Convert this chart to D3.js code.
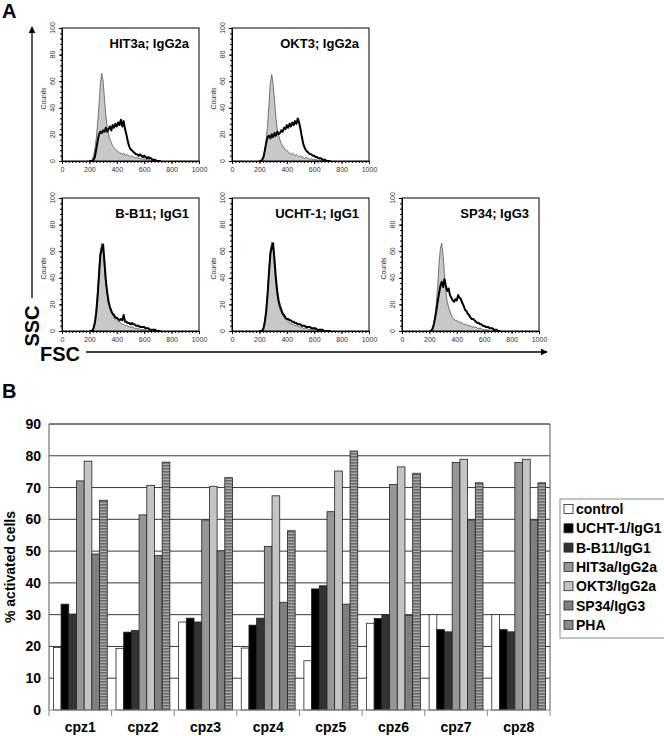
<!DOCTYPE html>
<html>
<head>
<meta charset="utf-8">
<script src="https://cdn.jsdelivr.net/npm/d3@7"></script>
<style>
body{margin:0;background:#fff;}
svg{display:block;font-family:"Liberation Sans",Arial,sans-serif;}
</style>
</head>
<body>
<script>
// ---- panel A data (FSC histograms) ----
const FSC_BINS=[200,210,220,230,240,250,260,270,280,290,300,310,320,330,340,350,360,370,380,390,
                400,410,420,430,440,450,460,470,480,490,500,510,520,530,540,550,560,570,580,590,
                600,610,620,630,640,650,660,670,680,690,700,710,720];
const FSC_TICKS=[0,200,400,600,800,1000];
const COUNT_TICKS=[0,20,40,60,80,100];
const PANEL_TITLES=["HIT3a; IgG2a","OKT3; IgG2a","B-B11; IgG1","UCHT-1; IgG1","SP34; IgG3"];

const hit3aCtrl=[0,0,1,4,9,17,28,42,58,66,60,47,34,25,20,16,14,11,10,9,8,7,6,6,5,6,4,5,4,4,3,4,3,3,2,3,2,2,2,1,2,1,1,1,1,0,1,0,0,0,0,0,0];
const hit3aStim=[0,0,0,1,3,9,15,20,22,21,23,22,25,22,24,26,23,27,25,28,26,29,27,31,26,30,24,20,15,11,9,8,7,6,5,5,4,5,4,3,4,3,2,3,2,2,1,1,1,0,0,0,0];
const okt3Ctrl=[0,0,1,3,8,16,27,43,59,65,58,46,33,24,19,16,13,11,10,8,8,7,6,5,6,5,4,5,4,3,4,3,3,2,3,2,2,1,2,1,1,1,1,0,1,0,0,0,0,0,0,0,0];
const okt3Stim=[0,0,1,3,8,14,18,19,17,20,18,21,19,22,20,21,23,22,25,24,27,25,28,26,29,27,30,28,32,29,24,18,13,10,8,7,6,5,5,4,4,3,3,2,2,2,1,1,1,0,0,0,0];
const bb11Ctrl=[0,0,1,3,8,17,30,47,60,66,60,47,35,27,21,17,14,12,10,9,8,7,7,6,5,5,4,4,4,3,3,3,3,2,2,2,2,1,1,1,1,1,0,0,0,0,0,0,0,0,0,0,0];
const bb11Stim=[0,0,0,2,6,14,26,42,57,62,65,52,38,29,22,18,15,13,12,10,10,9,8,9,8,12,7,7,6,6,5,6,5,5,4,4,4,3,3,3,3,2,2,2,1,1,1,1,1,0,0,0,0];
const ucht1Ctrl=[0,0,1,3,9,18,30,46,61,67,61,48,35,26,20,16,14,12,10,9,8,7,6,6,5,5,4,4,4,3,3,3,2,2,2,2,1,1,1,1,1,1,0,0,0,0,0,0,0,0,0,0,0];
const ucht1Stim=[0,0,0,2,7,15,28,44,58,63,66,54,40,30,23,19,16,13,12,10,9,9,8,8,7,7,6,6,5,5,5,4,4,4,3,3,3,3,2,2,2,2,1,1,1,1,1,0,0,0,0,0,0];
const sp34Ctrl=[0,0,1,4,10,20,33,50,62,66,57,42,30,22,18,15,12,10,9,8,8,7,7,6,6,5,5,5,4,4,4,3,3,3,3,2,2,2,2,1,1,1,1,1,0,0,0,0,0,0,0,0,0];
const sp34Stim=[0,0,1,4,9,15,22,28,34,37,33,39,34,30,32,27,25,23,22,24,23,27,25,24,21,19,16,15,13,12,10,9,9,8,7,6,6,5,5,4,4,3,3,3,2,2,2,1,1,1,0,0,0];

// ---- panel B data (% activated cells) ----
const DONORS=["cpz1","cpz2","cpz3","cpz4","cpz5","cpz6","cpz7","cpz8"];
const SERIES=["control","UCHT-1/IgG1","B-B11/IgG1","HIT3a/IgG2a","OKT3/IgG2a","SP34/IgG3","PHA"];
const control=[19.7,19.4,27.7,19.5,15.5,27.3,30,30];
const ucht1=[33.3,24.5,28.9,26.7,38.1,28.8,25.3,25.3];
const bb11=[30.2,25,27.7,28.9,39.1,30,24.6,24.6];
const hit3a=[72.1,61.4,59.8,51.5,62.4,71,77.9,77.9];
const okt3=[78.3,70.7,70.4,67.4,75.2,76.5,78.9,78.9];
const sp34=[49.1,48.6,50.1,33.9,33.3,29.8,59.8,59.8];
const pha=[66,78,73.1,56.4,81.5,74.5,71.5,71.5];
const PCT_TICKS=[0,10,20,30,40,50,60,70,80,90];

const w=664;
const h=736;
const svg=d3.select("body").append("svg").attr("width",w).attr("height",h);

const defs=svg.append("defs");
const pat=defs.append("pattern").attr("id","phaStripes").attr("patternUnits","userSpaceOnUse")
  .attr("width",6).attr("height",3);
pat.append("rect").attr("width",6).attr("height",3).attr("fill","#a9a9a9");
pat.append("rect").attr("width",6).attr("height",1.6).attr("fill","#6c6c6c");
defs.append("marker").attr("id","arrowHead").attr("viewBox","0 0 10 10")
  .attr("refX",9).attr("refY",5).attr("markerWidth",7).attr("markerHeight",7)
  .attr("markerUnits","userSpaceOnUse").attr("orient","auto")
  .append("path").attr("d","M0,0L10,5L0,10z").attr("fill","#000");

// ================= A =================
svg.append("text").text("A").attr("x",2).attr("y",18)
  .style("font-size","20px").style("font-weight","bold");

const panelW=137;
const panelH=133;
const panelPos=[[62,28],[232,28],[62,198],[232,198],[402,198]];
const histData=[
  {ctrl:hit3aCtrl,stim:hit3aStim},
  {ctrl:okt3Ctrl,stim:okt3Stim},
  {ctrl:bb11Ctrl,stim:bb11Stim},
  {ctrl:ucht1Ctrl,stim:ucht1Stim},
  {ctrl:sp34Ctrl,stim:sp34Stim}
];

const hx=d3.scaleLinear().domain([0,1000]).range([0,panelW]);
const hy=d3.scaleLinear().domain([0,100]).range([panelH,0]);
const histArea=d3.area().x(d=>hx(d[0])).y0(hy(0)).y1(d=>hy(d[1]));
const histLine=d3.line().x(d=>hx(d[0])).y(d=>hy(d[1]));

histData.forEach((p,i)=>{
  const g=svg.append("g").attr("transform",`translate(${panelPos[i][0]},${panelPos[i][1]})`);
  const ctrlPts=FSC_BINS.map((b,j)=>[b,p.ctrl[j]]);
  const stimPts=FSC_BINS.map((b,j)=>[b,p.stim[j]]);

  g.append("path").datum(ctrlPts).attr("d",histArea).attr("fill","#c8c8c8");
  g.append("path").datum(ctrlPts).attr("d",histLine).attr("fill","none")
    .attr("stroke","#555").attr("stroke-width",0.8);
  g.append("path").datum(stimPts).attr("d",histLine).attr("fill","none")
    .attr("stroke","#000").attr("stroke-width",2).attr("stroke-linejoin","round");

  g.append("rect").attr("width",panelW).attr("height",panelH)
    .attr("fill","none").attr("stroke","#000").attr("stroke-width",1);

  // x axis
  const xAx=g.append("g").attr("transform",`translate(0,${panelH})`)
    .call(d3.axisBottom(hx).tickValues(FSC_TICKS).tickSize(3).tickSizeOuter(0).tickFormat(d3.format("d")));
  g.append("g").attr("transform",`translate(0,${panelH})`)
    .call(d3.axisBottom(hx).tickValues(d3.range(0,1001,25)).tickSize(2).tickSizeOuter(0).tickFormat(""));
  xAx.selectAll("text").style("font-size","7px").attr("fill","#333");

  // y axis
  g.append("g").call(d3.axisLeft(hy).tickValues(COUNT_TICKS).tickSize(3).tickSizeOuter(0).tickFormat(""));
  g.append("g").call(d3.axisLeft(hy).tickValues(d3.range(0,101,4)).tickSize(2).tickSizeOuter(0).tickFormat(""));
  g.selectAll(".ylab").data(COUNT_TICKS).enter().append("text")
    .attr("transform",d=>`translate(-7,${hy(d)}) rotate(-90)`)
    .attr("text-anchor","middle").style("font-size","7px").attr("fill","#333")
    .text(d=>d);
  g.append("text").text("Counts")
    .attr("transform",`translate(-16,${panelH/2+4}) rotate(-90)`)
    .attr("text-anchor","middle").style("font-size","7px").attr("fill","#333");

  g.append("text").text(PANEL_TITLES[i])
    .attr("x",panelW-10).attr("y",20).attr("text-anchor","end")
    .style("font-size","13px").style("font-weight","bold");
});

// SSC / FSC arrows
svg.append("line").attr("x1",32).attr("y1",298).attr("x2",32).attr("y2",27)
  .attr("stroke","#000").attr("stroke-width",1.3).attr("marker-end","url(#arrowHead)");
svg.append("text").text("SSC").attr("transform","translate(39,326) rotate(-90)")
  .attr("text-anchor","middle").style("font-size","20px").style("font-weight","bold");
svg.append("text").text("FSC").attr("x",40).attr("y",361)
  .style("font-size","20px").style("font-weight","bold");
svg.append("line").attr("x1",86).attr("y1",352).attr("x2",547).attr("y2",352)
  .attr("stroke","#000").attr("stroke-width",1.3).attr("marker-end","url(#arrowHead)");

// ================= B =================
svg.append("text").text("B").attr("x",2).attr("y",398)
  .style("font-size","20px").style("font-weight","bold");

const plot={left:49,right:550,top:424,bottom:710};
const seriesValues=[control,ucht1,bb11,hit3a,okt3,sp34,pha];
const seriesFill=["#ffffff","#000000","#333333","#969696","#c4c4c4","#7f7f7f","url(#phaStripes)"];
const legendFill=["#ffffff","#000000","#333333","#969696","#c4c4c4","#7f7f7f","#8a8a8a"];

const xScale=d3.scaleBand().domain(DONORS).range([plot.left,plot.right])
  .paddingInner(0.14).paddingOuter(0.07);
const xInner=d3.scaleBand().domain(SERIES).range([0,xScale.bandwidth()]);
const yScale=d3.scaleLinear().domain([0,90]).range([plot.bottom,plot.top]);

// grid
svg.append("g").selectAll("line").data(PCT_TICKS.slice(1)).enter().append("line")
  .attr("x1",plot.left).attr("x2",plot.right)
  .attr("y1",d=>yScale(d)).attr("y2",d=>yScale(d))
  .attr("stroke",d=>d===90?"#000":"#3a3a3a").attr("stroke-width",1);
svg.append("line").attr("x1",plot.right).attr("x2",plot.right)
  .attr("y1",plot.top).attr("y2",plot.bottom).attr("stroke","#555");

// bars
const bars=[];
DONORS.forEach((d,i)=>{
  SERIES.forEach((s,k)=>{
    bars.push({donor:d,series:s,k:k,value:seriesValues[k][i]});
  });
});
svg.append("g").selectAll("rect").data(bars).enter().append("rect")
  .attr("x",d=>xScale(d.donor)+xInner(d.series))
  .attr("y",d=>yScale(d.value))
  .attr("width",xInner.bandwidth())
  .attr("height",d=>yScale(0)-yScale(d.value))
  .attr("fill",d=>seriesFill[d.k])
  .attr("stroke","#222").attr("stroke-width",0.8);

// axes
svg.append("line").attr("x1",plot.left).attr("x2",plot.left)
  .attr("y1",plot.top).attr("y2",plot.bottom).attr("stroke","#555");
svg.append("line").attr("x1",plot.left).attr("x2",plot.right)
  .attr("y1",plot.bottom).attr("y2",plot.bottom).attr("stroke","#888");
const boundaries=DONORS.map(d=>xScale(d)-xScale.step()*xScale.paddingInner()/2)
  .concat([plot.right]);
svg.append("g").selectAll("line").data(boundaries).enter().append("line")
  .attr("x1",d=>d).attr("x2",d=>d).attr("y1",plot.bottom).attr("y2",plot.bottom+6)
  .attr("stroke","#888");

svg.append("g").selectAll("text").data(PCT_TICKS).enter().append("text")
  .attr("x",41).attr("y",d=>yScale(d)+5).attr("text-anchor","end")
  .style("font-size","14px").style("font-weight","bold").text(d=>d);
svg.append("g").selectAll("text").data(DONORS).enter().append("text")
  .attr("x",d=>xScale(d)+xScale.bandwidth()/2).attr("y",732).attr("text-anchor","middle")
  .style("font-size","14px").style("font-weight","bold").text(d=>d);
svg.append("text").text("% activated cells")
  .attr("transform",`translate(15,${(plot.top+plot.bottom)/2}) rotate(-90)`)
  .attr("text-anchor","middle").style("font-size","14px").style("font-weight","bold");

// legend
const legend=svg.append("g").attr("transform","translate(560,499)");
legend.append("rect").attr("width",110).attr("height",139)
  .attr("fill","#fff").attr("stroke","#888");
SERIES.forEach((s,k)=>{
  const row=legend.append("g").attr("transform",`translate(4,${10+k*19.3})`);
  row.append("rect").attr("x",0).attr("y",-4.5).attr("width",9).attr("height",9)
    .attr("fill",legendFill[k]).attr("stroke","#222").attr("stroke-width",0.8);
  row.append("text").text(s).attr("x",12).attr("y",5)
    .style("font-size","14px").style("font-weight","bold");
});
</script>
</body>
</html>
